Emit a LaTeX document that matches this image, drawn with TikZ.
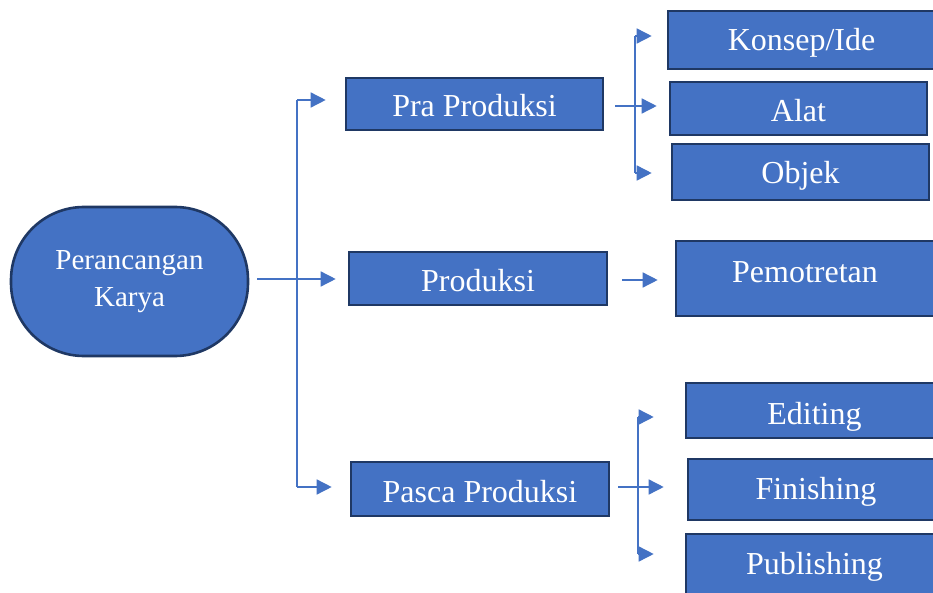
\documentclass[tikz,border=0pt]{standalone}
\usepackage{fontspec}
\setmainfont{Liberation Serif}
\usetikzlibrary{arrows.meta}
\definecolor{boxblue}{HTML}{4472C4}
\definecolor{boxedge}{HTML}{1F3864}
\begin{document}
\begin{tikzpicture}[x=1pt,y=-1pt,
  base/.style={draw=boxedge, line width=2.6pt, fill=boxblue, text=white, inner sep=0pt},
  box/.style={base, rectangle, font=\fontsize{32}{38}\selectfont, text height=26pt, text depth=0pt},
  conn/.style={draw=boxblue, line width=1.5pt},
  arr/.style={conn, -{Triangle[length=15pt,width=15pt]}}]
\useasboundingbox (0,0) rectangle (933,593);
\clip (0,0) rectangle (933,593);

% root
\node[base, rounded corners=73pt, minimum width=237pt, minimum height=149pt, align=center,
      font=\fontsize{29}{37}\selectfont] (root) at (129.5,281.5) {Perancangan\\Karya};

% level 1
\node[box, minimum width=257pt, minimum height=52pt] (pra) at (474.5,104) {Pra Produksi};
\node[box, minimum width=258pt, minimum height=53pt] (prod) at (478,278.5) {Produksi};
\node[box, minimum width=258pt, minimum height=54pt] (pasca) at (480,489) {Pasca Produksi};

% level 2
\node[box, minimum width=267pt, minimum height=58pt, text height=22pt] (konsep) at (801.5,40) {Konsep/Ide};
\node[box, minimum width=257pt, minimum height=53pt] (alat) at (798.5,108.5) {Alat};
\node[box, minimum width=257pt, minimum height=56pt, text height=24pt] (objek) at (800.5,172) {Objek};
\node[box, minimum width=258pt, minimum height=75pt, text height=21pt, text depth=12pt] (pem) at (805,278.5) {Pemotretan};
\node[box, minimum width=257pt, minimum height=55pt, text height=27pt] (edit) at (814.5,410.5) {Editing};
\node[box, minimum width=256pt, minimum height=61pt, text height=20pt] (fin) at (816,489.5) {Finishing};
\node[box, minimum width=257pt, minimum height=60pt, text height=21pt] (pub) at (814.5,564) {Publishing};

% main connectors
\coordinate (m0) at (257,279);
\coordinate (mt) at (297,100);
\coordinate (mb) at (297,487);
\draw[conn] (mt) -- (mb);
\draw[arr] (m0) -- ([xshift=-12pt]prod.west |- m0);
\draw[arr] (mt) -- ([xshift=-19pt]pra.west |- mt);
\draw[arr] (mb) -- ([xshift=-18pt]pasca.west |- mb);

% pra produksi branch
\coordinate (p0) at (615,106);
\coordinate (pt) at (635,36);
\coordinate (pb) at (635,173);
\draw[conn] (pt) -- (pb);
\draw[arr] (p0) -- ([xshift=-12pt]alat.west |- p0);
\draw[arr] (pt) -- ([xshift=-15pt]konsep.west |- pt);
\draw[arr] (pb) -- ([xshift=-19pt]objek.west |- pb);

% produksi branch
\coordinate (q0) at (622,280);
\draw[arr] (q0) -- ([xshift=-17pt]pem.west |- q0);

% pasca produksi branch
\coordinate (s0) at (618,487);
\coordinate (st) at (638,417);
\coordinate (sb) at (638,554);
\draw[conn] (st) -- (sb);
\draw[arr] (s0) -- ([xshift=-23pt]fin.west |- s0);
\draw[arr] (st) -- ([xshift=-31pt]edit.west |- st);
\draw[arr] (sb) -- ([xshift=-31pt]pub.west |- sb);
\end{tikzpicture}
\end{document}
